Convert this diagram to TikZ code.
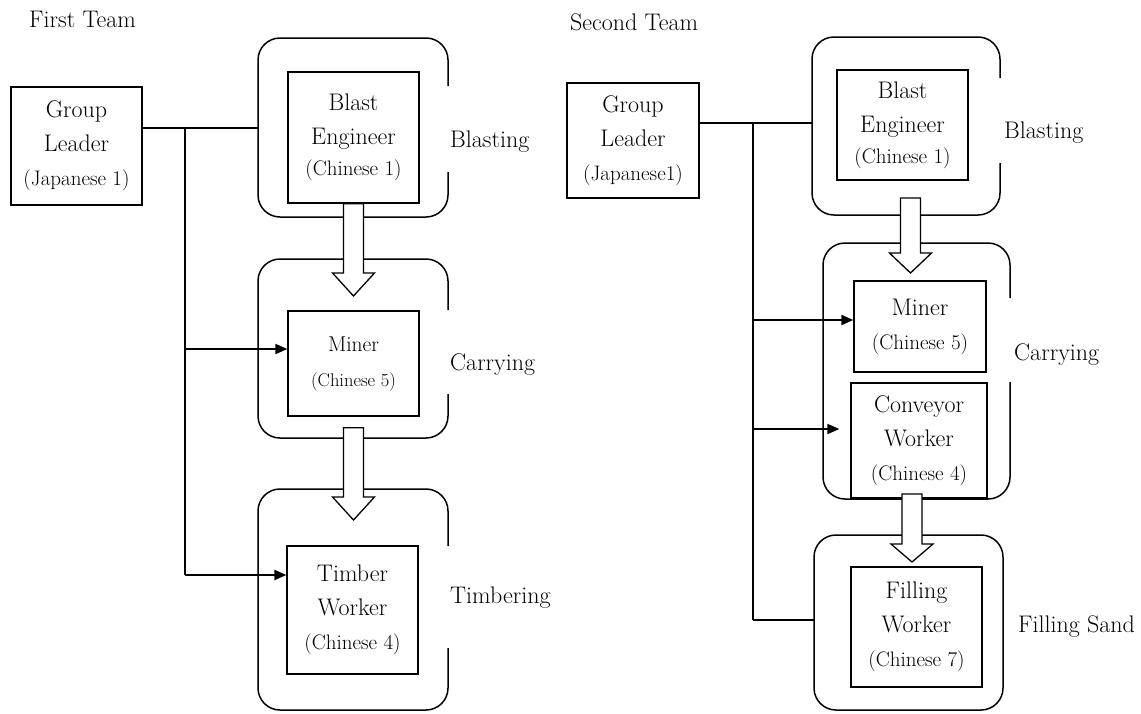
\documentclass[tikz,border=0pt]{standalone}
\usetikzlibrary{calc,arrows.meta}
\newcommand\mfs{\fontsize{24}{34}\selectfont}
\newcommand\sfs{\fontsize{21}{34}\selectfont}
\newcommand\hollowarrow[3]{%
  \path[hollow] let \p1=(#1), \p2=(#2) in
    (\x1-10pt,\y1) -- (\x1+10pt,\y1) -- (\x1+10pt,\y2+#3) -- (\x1+21pt,\y2+#3)
    -- (\x1,\y2) -- (\x1-21pt,\y2+#3) -- (\x1-10pt,\y2+#3) -- cycle;}
\tikzset{
  box/.style={draw, line width=1.3pt, fill=white, inner sep=0pt, align=center, font=\mfs},
  cont/.style={draw, line width=1.5pt, rounded corners=22pt},
  hollow/.style={draw, line width=1.3pt, fill=white, line join=miter},
  conn/.style={line width=2pt},
  vline/.style={line width=1.4pt},
  arr/.style={line width=2pt, -{Triangle[length=12pt,width=10pt]}},
  lab/.style={anchor=west, inner sep=0pt, font=\mfs},
  title/.style={anchor=west, inner sep=0pt, font=\mfs}
}
\begin{document}
\begin{tikzpicture}[x=1pt,y=-1pt]
\useasboundingbox (0,0) rectangle (1141,713);
% titles
\node[title] (t1) at (29,19) {First Team};
\node[title] (t2) at (570,22) {Second Team};
% containers team 1
\draw[cont] (448,86) -- (448,38) -- (258,38) -- (258,217) -- (448,217) -- (448,172);
\draw[cont] (448,310) -- (448,259) -- (258,259) -- (258,438) -- (448,438) -- (448,394);
\draw[cont] (448,546) -- (448,489) -- (258,489) -- (258,710) -- (448,710) -- (448,648);
% containers team 2
\draw[cont] (1000,78) -- (1000,37) -- (812,37) -- (812,215) -- (1000,215) -- (1000,163);
\draw[cont] (1010,298) -- (1010,243) -- (823,243) -- (823,499) -- (1010,499) -- (1010,382);
\draw[cont] (814,535) rectangle (1003,710);
% boxes team 1
\node[box, minimum width=131pt, minimum height=118pt] (gl1) at (76.5,146) {Group\\Leader\\{\sfs (Japanese 1)}};
\node[box, minimum width=131pt, minimum height=131pt] (be1) at (353.5,137.5) {Blast\\Engineer\\[-3pt]{\sfs (Chinese 1)}};
\node[box, minimum width=131pt, minimum height=105pt, font=\fontsize{21.5}{35}\selectfont] (mi1) at (353.5,363.5) {Miner\\{\fontsize{18.5}{35}\selectfont (Chinese 5)}};
\node[box, minimum width=131pt, minimum height=128pt] (tw1) at (352.5,610) {Timber\\Worker\\{\sfs (Chinese 4)}};
% boxes team 2
\node[box, minimum width=132pt, minimum height=115pt] (gl2) at (633,140.5) {Group\\Leader\\{\sfs (Japanese1)}};
\node[box, minimum width=131pt, minimum height=110pt] (be2) at (902.5,125) {Blast\\Engineer\\[-3pt]{\sfs (Chinese 1)}};
\node[box, minimum width=132pt, minimum height=91pt] (mi2) at (920,326.5) {Miner\\{\sfs (Chinese 5)}};
\node[box, minimum width=136pt, minimum height=115pt] (cv2) at (919,440.5) {Conveyor\\Worker\\{\sfs (Chinese 4)}};
\node[box, minimum width=131pt, minimum height=120pt] (fw2) at (916.5,627) {Filling\\Worker\\{\sfs (Chinese 7)}};
% hollow arrows
\coordinate (a1t) at (353.5,296);
\hollowarrow{be1.south}{a1t}{23pt}
\coordinate (a2s) at ([yshift=-11pt]mi1.south);
\coordinate (a2t) at (353.5,520);
\hollowarrow{a2s}{a2t}{23pt}
\coordinate (a3s) at (910.5,198);
\coordinate (a3t) at (910.5,273);
\hollowarrow{a3s}{a3t}{20pt}
\coordinate (a4s) at (912,494);
\coordinate (a4t) at (912,562);
\hollowarrow{a4s}{a4t}{18pt}
% labels
\node[lab] (l1) at (450,142) {Blasting};
\node[lab] (l2) at (450,365) {Carrying};
\node[lab] (l3) at (450,598) {Timbering};
\node[lab] (l4) at (1004,133) {Blasting};
\node[lab] (l5) at (1014,355) {Carrying};
\node[lab] (l6) at (1018,627) {Filling Sand};
% connectors team 1
\coordinate (j1) at (185,128);
\coordinate (c1w) at (258,128);
\coordinate (j1b) at (185,575);
\coordinate (mi1in) at ([yshift=14.5pt]mi1.west);
\coordinate (tw1in) at ([yshift=35pt]tw1.west);
\draw[conn] (gl1.east |- j1) -- (c1w);
\draw[vline] (j1) -- (j1b);
\draw[arr] (j1 |- mi1in) -- (mi1in);
\draw[arr] (j1b) -- (tw1in);
% connectors team 2
\coordinate (j2) at (753,123);
\coordinate (c2w) at (812,123);
\coordinate (j2b) at (753,620);
\coordinate (c6w) at (814,620);
\coordinate (mi2in) at ([yshift=6.5pt]mi2.west);
\coordinate (cv2in) at ([xshift=-11pt,yshift=11.5pt]cv2.west);
\draw[conn] (gl2.east |- j2) -- (c2w);
\draw[vline] (j2) -- (j2b);
\draw[arr] (j2 |- mi2in) -- (mi2in);
\draw[arr] (j2 |- cv2in) -- (cv2in);
\draw[conn] (j2b) -- (c6w);
\end{tikzpicture}
\end{document}
